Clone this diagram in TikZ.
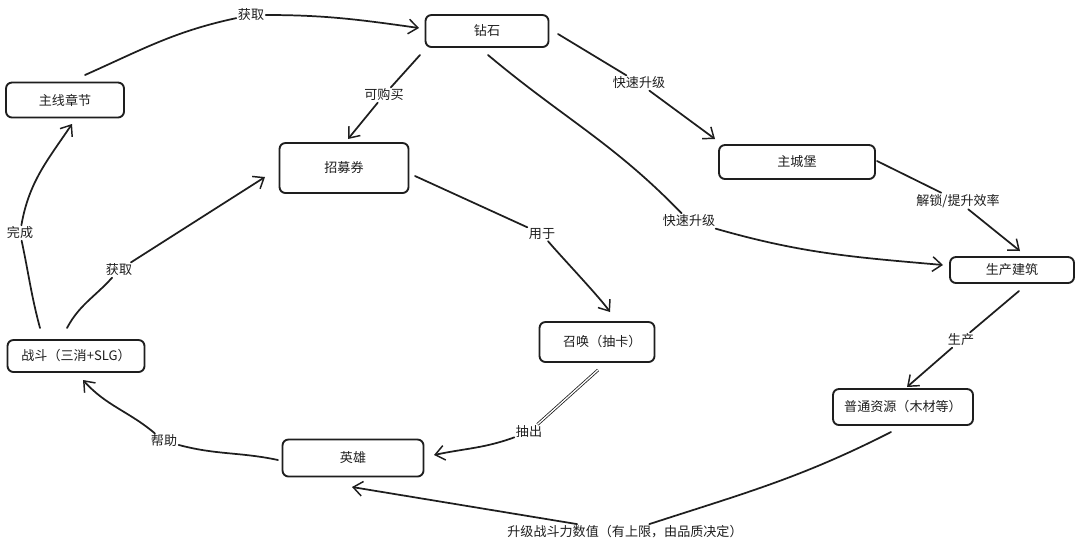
\documentclass[tikz,border=0pt]{standalone}
\usepackage{fontspec}
\setmainfont{Noto Sans CJK SC}
\usetikzlibrary{arrows.meta}
\definecolor{ink}{HTML}{1E1E1E}
\newcommand\fsz{\fontsize{9.8pt}{12pt}\selectfont}
\begin{document}
\begin{tikzpicture}[x=0.75pt,y=0.75pt,
  box/.style={draw=ink,line width=1.4pt,rounded corners=4.5pt,inner sep=0pt,font=\fsz,text=ink},
  lbl/.style={fill=white,inner sep=1pt,font=\fsz,text=ink},
  edge/.style={draw=ink,line width=1.3pt,line cap=round,-{Straight Barb[length=7pt,width=11pt,line width=1.1pt]}},
  plain/.style={draw=ink,line width=1.3pt,line cap=round},
]
\fill[white] (0,0) rectangle (1080,-547);
\useasboundingbox (0,0) rectangle (1080,-547);

% nodes
\node[box,minimum width=92.25pt,minimum height=24pt] (dia) at (487,-31) {钻石};
\node[box,minimum width=88.5pt,minimum height=26.25pt] (ch) at (65,-100) {主线章节};
\node[box,minimum width=96.75pt,minimum height=37.5pt] (tk) at (344,-168) {招募券};
\node[box,minimum width=117pt,minimum height=25.5pt] (cb) at (797,-162) {主城堡};
\node[box,minimum width=93pt,minimum height=19.5pt] (pb) at (1012,-270) {生产建筑};
\node[box,minimum width=86.25pt,minimum height=30pt] (sm) at (597,-342) {\hspace{8pt}召唤（抽卡）};
\node[box,minimum width=102.75pt,minimum height=24pt] (bt) at (76,-356) {战斗（三消+SLG）};
\node[box,minimum width=105.75pt,minimum height=27.75pt] (hr) at (353,-458) {英雄};
\node[box,minimum width=105pt,minimum height=27pt] (rs) at (903,-407) {普通资源（木材等）};

% labels
\node[lbl] (l1) at (251,-15) {获取};
\node[lbl] (l2) at (384,-95) {可购买};
\node[lbl] (l3) at (639,-83) {快速升级};
\node[lbl] (l4) at (689,-221) {快速升级};
\node[lbl] (l5) at (958,-201) {解锁/提升效率};
\node[lbl] (l6) at (542,-234) {用于};
\node[lbl] (l7) at (961,-340) {生产};
\node[lbl] (l8) at (529,-432) {抽出};
\node[lbl] (l9) at (625,-532) {升级战斗力数值（有上限，由品质决定）};
\node[lbl] (l10) at (164,-441) {帮助};
\node[lbl] (l11) at (20,-233) {完成};
\node[lbl] (l12) at (119,-270) {获取};

% edges
\draw[edge] ([shift={(20,25)}]ch.center) to[out=24,in=192] (l1) to[out=0,in=172] ([shift={(-68,3)}]dia.center);
\draw[edge] ([shift={(-67,-24)}]dia.center) -- (l2) -- ([shift={(4,29)}]tk.center);
\draw[edge] ([shift={(71,-3)}]dia.center) -- (l3) -- ([shift={(-82,23)}]cb.center);
\draw[edge] ([shift={(1,-24)}]dia.center) to[out=-40,in=134] (l4) to[out=-16,in=175] ([shift={(-69,5)}]pb.center);
\draw[edge] ([shift={(80,1)}]cb.center) -- (l5) -- ([shift={(8,19)}]pb.center);
\draw[edge] ([shift={(71,-8)}]tk.center) -- (l6) to[out=-50,in=125,looseness=0.5] ([shift={(13,30)}]sm.center);
\draw[edge] ([shift={(7,-21)}]pb.center) -- (l7) -- ([shift={(4,20)}]rs.center);
\draw[draw=ink,line width=0.6pt,double=white,double distance=1pt] ([shift={(1,-28)}]sm.center) -- (l8);
\draw[edge] (l8) to[out=200,in=12] ([shift={(81,3)}]hr.center);
\draw[edge] ([shift={(-12,-25)}]rs.center) to[out=207,in=18] (l9) -- ([shift={(-1,-29)}]hr.center);
\draw[edge] ([shift={(-75,-2)}]hr.center) to[out=168,in=-15] (l10) to[out=140,in=-48] ([shift={(7,-24)}]bt.center);
\draw[edge] ([shift={(-36,28)}]bt.center) to[out=105,in=-78] (l11) to[out=80,in=236] ([shift={(7,-24)}]ch.center);
\draw[edge] ([shift={(-9,28)}]bt.center) to[out=62,in=228] (l12) -- ([shift={(-79,-9)}]tk.center);
\end{tikzpicture}
\end{document}
